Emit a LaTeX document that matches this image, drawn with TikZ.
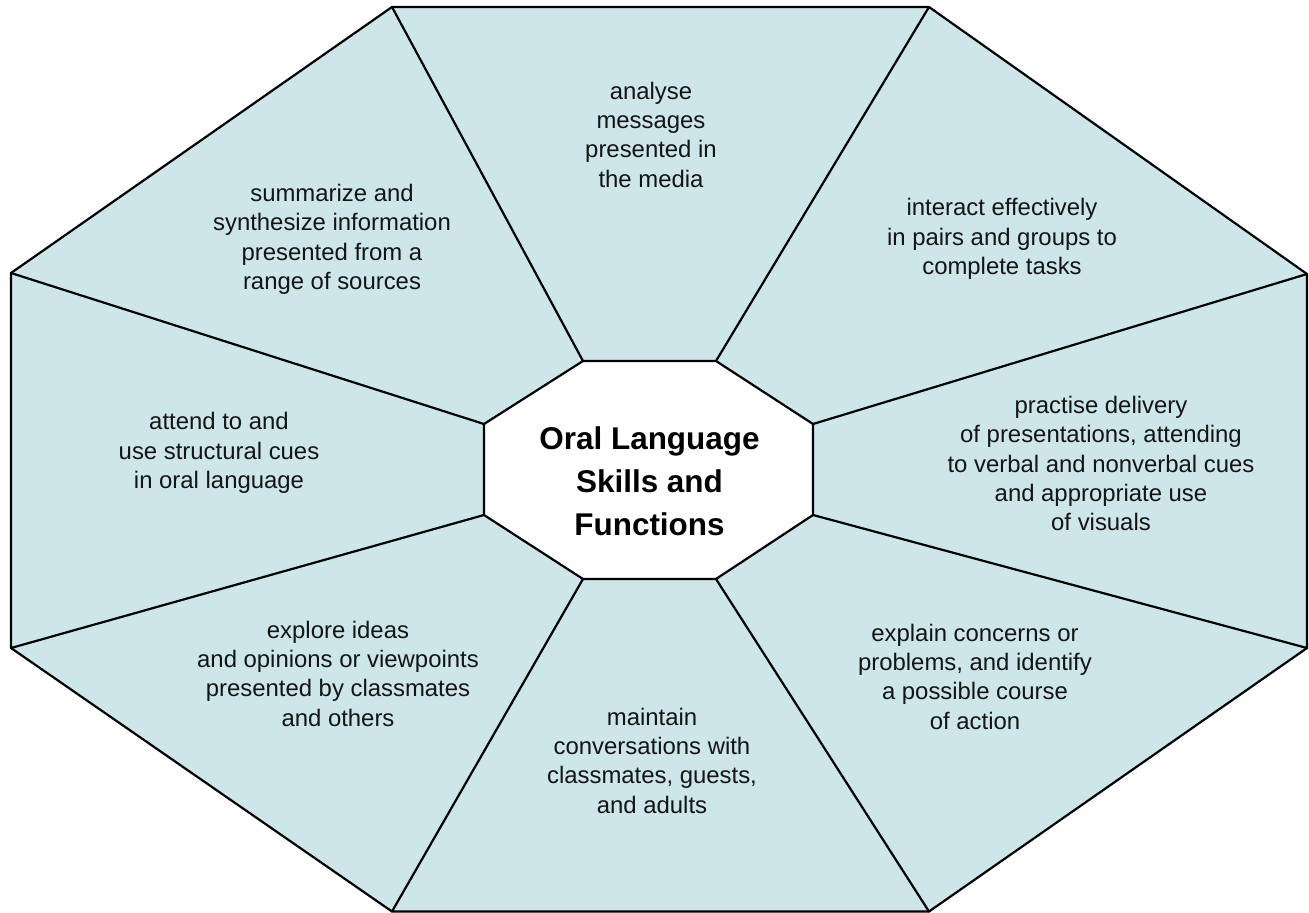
\documentclass[tikz,border=0pt]{standalone}
\usepackage{fontspec}
\setmainfont{Liberation Sans}
\definecolor{sector}{RGB}{205,230,234}
\definecolor{inktext}{RGB}{20,20,20}
\newcommand{\lblstrutA}{\rule{0pt}{0.72em}}
\newcommand{\lblstrutB}{\rule[-0.21em]{0pt}{0.21em}}
\begin{document}
\begin{tikzpicture}[x=0.02cm,y=-0.02cm,
  edge/.style={line width=1.25pt, line join=miter, black},
  lbl/.style={align=center, text=inktext, inner sep=0pt,
    font=\fontsize{13.6}{16.7}\selectfont,
    execute at begin node=\lblstrutA, execute at end node=\lblstrutB},
  titlelbl/.style={align=center, text=black, inner sep=0pt,
    font=\fontsize{17.9}{24.4}\selectfont\bfseries}]
\useasboundingbox (0,0) rectangle (1309,913);
% outer octagon
\coordinate (O1) at (392,7);
\coordinate (O2) at (929,7);
\coordinate (O3) at (1307,274);
\coordinate (O4) at (1307,648);
\coordinate (O5) at (929,911.5);
\coordinate (O6) at (392,911.5);
\coordinate (O7) at (11,648);
\coordinate (O8) at (11,273);
% inner octagon
\coordinate (I1) at (583,361);
\coordinate (I2) at (716,361);
\coordinate (I3) at (813,424);
\coordinate (I4) at (813,515);
\coordinate (I5) at (716,579);
\coordinate (I6) at (583,579);
\coordinate (I7) at (484,515);
\coordinate (I8) at (484,424);
\fill[sector] (O1)--(O2)--(O3)--(O4)--(O5)--(O6)--(O7)--(O8)--cycle;
\fill[white] (I1)--(I2)--(I3)--(I4)--(I5)--(I6)--(I7)--(I8)--cycle;
\foreach \k in {1,...,8} { \draw[edge, line cap=round] (I\k) -- (O\k); }
\draw[edge] (O1)--(O2)--(O3)--(O4)--(O5)--(O6)--(O7)--(O8)--cycle;
\draw[edge] (I1)--(I2)--(I3)--(I4)--(I5)--(I6)--(I7)--(I8)--cycle;
% labels
\node[titlelbl] (center) at (649.5,481) {Oral Language\\Skills and\\Functions};
\node[lbl] (analyse) at (651,137) {analyse\\messages\\presented in\\the media};
\node[lbl] (interact) at (1002,239) {interact effectively\\in pairs and groups to\\complete tasks};
\node[lbl] (practise) at (1101,466) {practise delivery\\of presentations, attending\\to verbal and nonverbal cues\\and appropriate use\\of visuals};
\node[lbl] (explain) at (975,679) {explain concerns or\\problems, and identify\\a possible course\\of action};
\node[lbl] (maintain) at (652,763) {maintain\\conversations with\\classmates, guests,\\and adults};
\node[lbl] (explore) at (338,676) {explore ideas\\and opinions or viewpoints\\presented by classmates\\and others};
\node[lbl] (attend) at (219,453) {attend to and\\use structural cues\\in oral language};
\node[lbl] (summarize) at (332,239.5) {summarize and\\synthesize information\\presented from a\\range of sources};
\end{tikzpicture}
\end{document}
